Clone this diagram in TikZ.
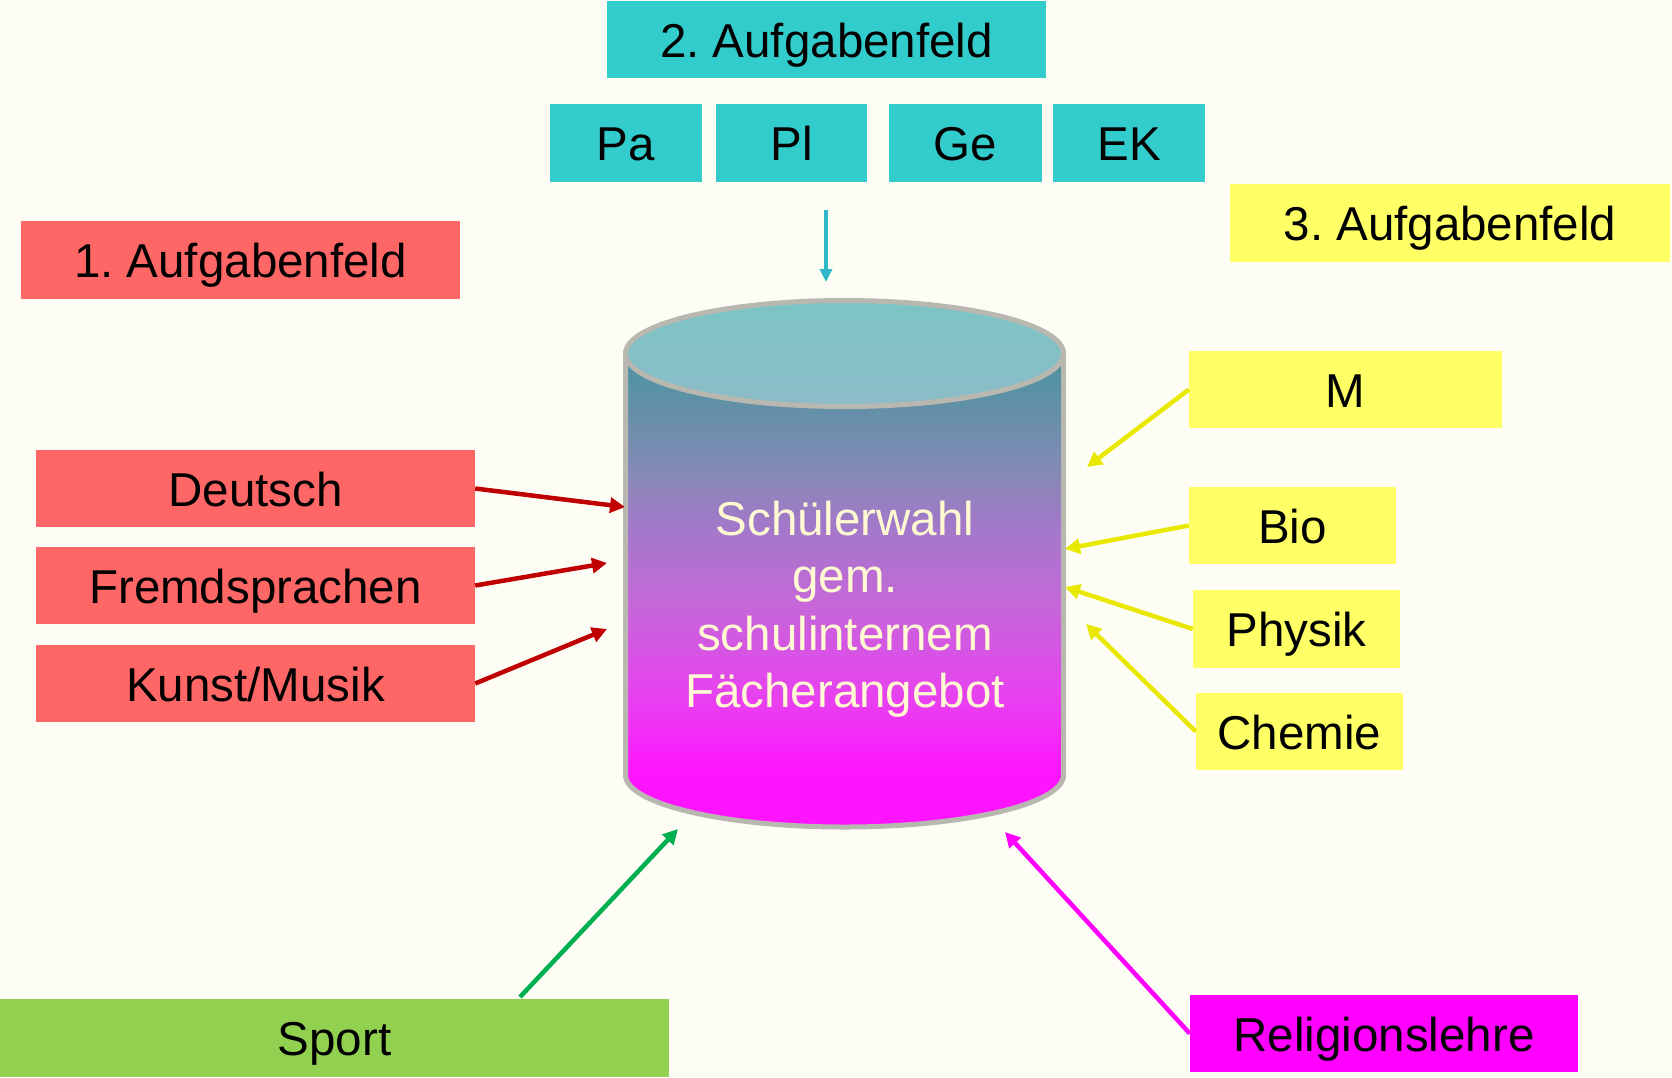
\documentclass[tikz,border=0pt]{standalone}
\usepackage{fontspec}
\setmainfont{Liberation Sans}
\usetikzlibrary{arrows.meta}
\frenchspacing
\definecolor{bg}{RGB}{253,253,246}
\definecolor{redbox}{RGB}{255,102,102}
\definecolor{cyanbox}{RGB}{51,204,204}
\definecolor{yelbox}{RGB}{255,255,102}
\definecolor{greenbox}{RGB}{146,208,80}
\definecolor{magbox}{RGB}{255,0,255}
\definecolor{redarr}{RGB}{192,0,0}
\definecolor{yelarr}{RGB}{232,232,0}
\definecolor{greenarr}{RGB}{0,176,80}
\definecolor{cyanarr}{RGB}{48,184,200}
\definecolor{cylborder}{RGB}{184,184,176}
\definecolor{cyltext}{RGB}{255,250,210}
\definecolor{lidtop}{RGB}{124,196,196}
\definecolor{lidbot}{RGB}{140,188,200}
\definecolor{cA}{RGB}{74,148,160}
\definecolor{cB}{RGB}{100,144,168}
\definecolor{cC}{RGB}{138,136,184}
\definecolor{cD}{RGB}{160,122,200}
\definecolor{cE}{RGB}{196,104,216}
\definecolor{cF}{RGB}{232,64,240}
\definecolor{cG}{RGB}{255,20,255}
\pgfdeclareverticalshading{cylbody}{100bp}{color(0bp)=(cG); color(30.7bp)=(cG); color(38.4bp)=(cF); color(48.9bp)=(cE); color(57.4bp)=(cD); color(61.6bp)=(cC); color(69bp)=(cB); color(75bp)=(cA); color(100bp)=(cA)}
\begin{document}
\begin{tikzpicture}[x=1pt,y=1pt,
  box/.style={rectangle, inner sep=0pt, font=\fontsize{47.5}{56}\selectfont, text=black, minimum height=77pt, text height=35pt, text depth=0pt},
  redb/.style={box, fill=redbox},
  cyanb/.style={box, fill=cyanbox},
  yelb/.style={box, fill=yelbox},
  arr/.style={line width=4.5pt, -{Triangle[length=15pt,width=15pt]}},
]
\useasboundingbox[fill=bg] (0,0) rectangle (1672,-1077);

% top boxes
\node[cyanb, minimum width=439pt] (a2) at (826.5,-39.5) {2. Aufgabenfeld};
\node[cyanb, minimum width=152pt, minimum height=78pt] (pa) at (626,-143) {Pa};
\node[cyanb, minimum width=151pt, minimum height=78pt] (pl) at (791.5,-143) {Pl};
\node[cyanb, minimum width=153pt, minimum height=78pt] (ge) at (965.5,-143) {Ge};
\node[cyanb, minimum width=152pt, minimum height=78pt] (ek) at (1129,-143) {EK};

\node[yelb, minimum width=440pt, minimum height=78pt] (a3) at (1450,-223) {3. Aufgabenfeld};
\node[redb, minimum width=439pt, minimum height=78pt] (a1) at (240.5,-260) {1. Aufgabenfeld};

% left boxes
\node[redb, minimum width=439pt] (de) at (255.5,-488.5) {Deutsch};
\node[redb, minimum width=439pt] (fr) at (255.5,-585.5) {Fremdsprachen};
\node[redb, minimum width=439pt] (ku) at (255.5,-683.5) {Kunst/Musik};

% right boxes
\node[yelb, minimum width=313pt] (m) at (1345.5,-389.5) {M};
\node[yelb, minimum width=207pt] (bio) at (1292.5,-525.5) {Bio};
\node[yelb, minimum width=207pt, minimum height=78pt] (ph) at (1296.5,-629) {Physik};
\node[yelb, minimum width=207pt] (ch) at (1299.5,-731.5) {Chemie};

% bottom boxes
\node[box, fill=greenbox, minimum width=669pt, minimum height=78pt] (sp) at (334.5,-1038) {Sport};
\node[box, fill=magbox, minimum width=388pt] (re) at (1384,-1033.5) {Religionslehre};

% cylinder
\path[shading=cylbody]
  (625.5,-353.5) -- (625.5,-775) arc[start angle=180, end angle=360, x radius=219, y radius=52] -- (1063.5,-353.5) -- cycle;
\draw[cylborder, line width=5pt]
  (625.5,-353.5) -- (625.5,-775) arc[start angle=180, end angle=360, x radius=219, y radius=52] -- (1063.5,-353.5);
\draw[cylborder, line width=5pt, top color=lidtop, bottom color=lidbot] (844.5,-353.5) ellipse[x radius=219, y radius=53];
\node[align=center, text=cyltext, font=\fontsize{47.5}{57.3}\selectfont, inner sep=0pt, anchor=north] (cyl) at (845,-501)
  {Schülerwahl\\gem.\\schulinternem\\Fächerangebot};

% arrow end points
\coordinate (c0) at (826,-210);
\coordinate (c1) at (826,-282);
\coordinate (e1) at (625,-507);
\coordinate (e2) at (607,-563);
\coordinate (e3) at (607,-629);
\coordinate (e4) at (1087,-467);
\coordinate (e5) at (1065,-549);
\coordinate (e6) at (1065,-587);
\coordinate (e7) at (1086,-624);
\coordinate (e8) at (678,-829);
\coordinate (e9) at (1005,-832);
\coordinate (s8) at (520,-997);

\draw[arr, cyanarr, line width=3.5pt, -{Triangle[length=13pt,width=12pt]}] (c0) -- (c1);
\draw[arr, redarr] (de.east) -- (e1);
\draw[arr, redarr] (fr.east) -- (e2);
\draw[arr, redarr] (ku.east) -- (e3);
\draw[arr, yelarr] (m.west) -- (e4);
\draw[arr, yelarr] (bio.west) -- (e5);
\draw[arr, yelarr] (ph.west) -- (e6);
\draw[arr, yelarr] (ch.west) -- (e7);
\draw[arr, greenarr] (s8) -- (e8);
\draw[arr, magbox] (re.west) -- (e9);
\end{tikzpicture}
\end{document}
